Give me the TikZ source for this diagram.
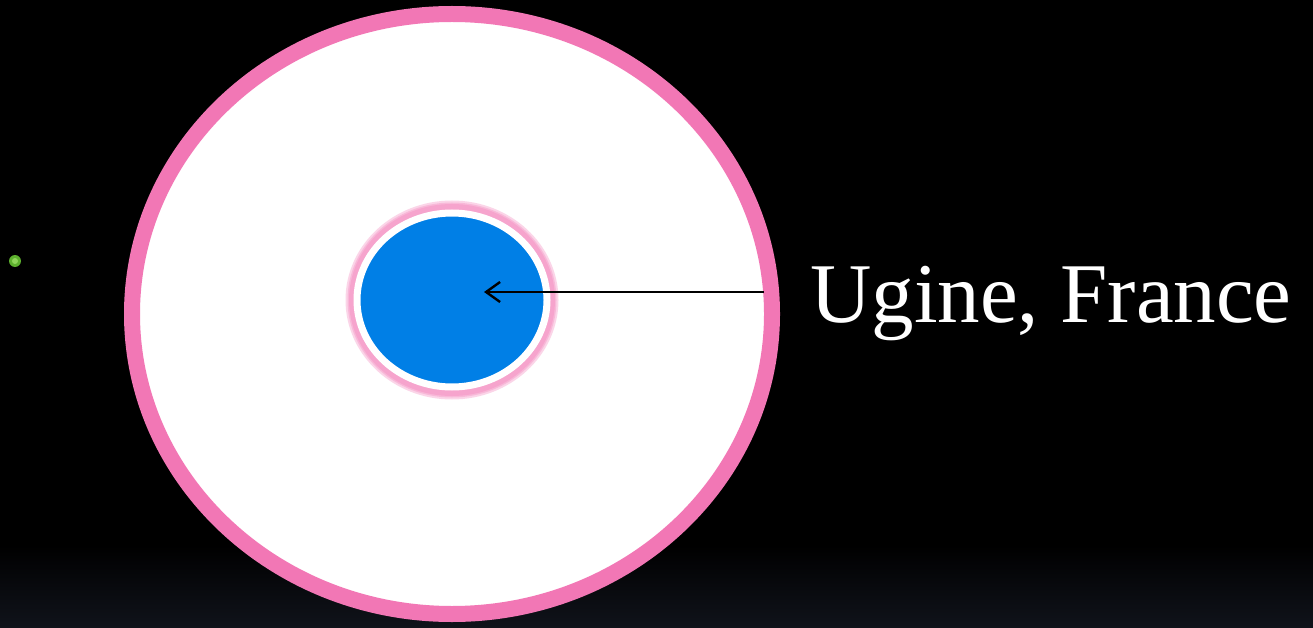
\documentclass[tikz,border=0pt]{standalone}
\usepackage{fontspec}
\setmainfont{Liberation Serif}
\usetikzlibrary{arrows.meta,shapes.geometric}
\definecolor{pinkring}{HTML}{F277B5}
\definecolor{bluecore}{HTML}{007FE6}
\definecolor{greendot}{HTML}{5DB02E}
\definecolor{greenlight}{HTML}{8FD65A}
\definecolor{bottomgray}{HTML}{10131B}
\tikzset{
  outerring/.style={draw=pinkring, line width=16pt, fill=white},
  glow/.style={draw=pinkring, line width=#1, opacity=0.3},
  corering/.style={draw=white, line width=7pt, fill=bluecore},
  label/.style={text=white, font=\fontsize{85}{90}\selectfont, inner sep=0pt, anchor=base west},
  pointer/.style={draw=black, line width=2.4pt, -{Straight Barb[length=14pt,width=20pt,line width=2.4pt]}}
}
\begin{document}
\begin{tikzpicture}[x=1pt,y=-1pt]
\useasboundingbox (0,0) rectangle (1313,628);
\fill[black] (0,0) rectangle (1313,628);
\shade[top color=black, bottom color=bottomgray] (0,545) rectangle (1313,628);
% green dot
\node[circle, fill=greendot, minimum size=12pt, inner sep=0pt] (dot) at (15,261) {};
\fill[greenlight] (dot.center) circle (3pt);
% big circle
\node[ellipse, outerring, minimum width=640pt, minimum height=600pt, inner sep=0pt] (big) at (452,314) {};
% glow
\foreach \w in {14pt,10pt,7pt} {
  \draw[glow=\w] (452,300) ellipse (99.5pt and 92.5pt);
}
\node[ellipse, corering, minimum width=190pt, minimum height=174pt, inner sep=0pt] (core) at (452,300) {};
% arrow
\coordinate (start) at (764,292);
\coordinate (tip) at (484,292);
\draw[pointer] (start) -- (tip);
\node[label] (lbl) at (810,322) {Ugine, France};
\end{tikzpicture}
\end{document}
